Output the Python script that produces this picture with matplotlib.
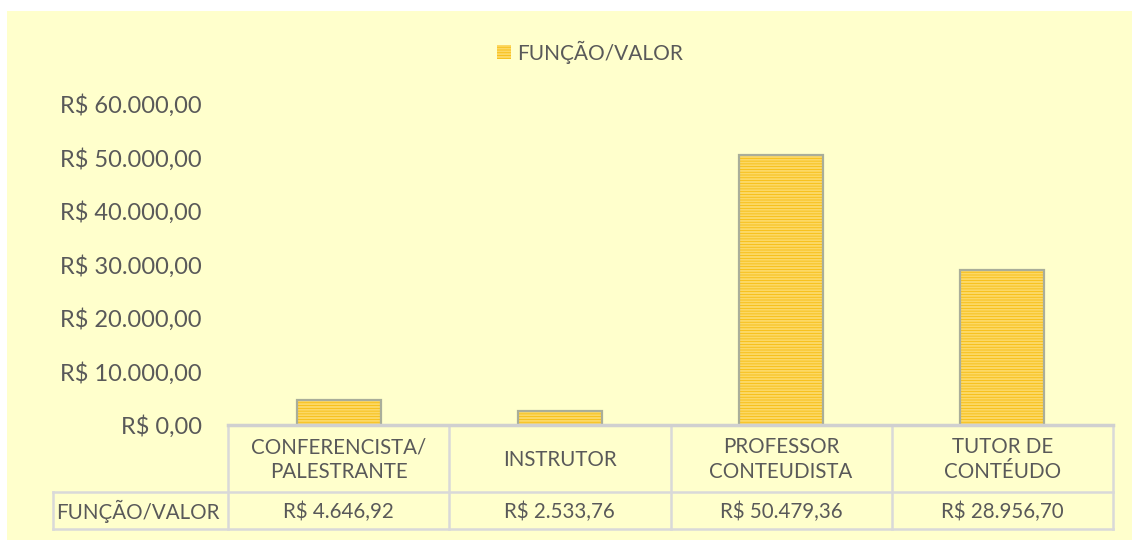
import matplotlib.pyplot as plt
from matplotlib.patches import Rectangle

categories = ["CONFERENCISTA/\nPALESTRANTE", "INSTRUTOR", "PROFESSOR\nCONTEUDISTA", "TUTOR DE\nCONTÉUDO"]
values = [4646.92, 2533.76, 50479.36, 28956.70]
value_labels = ["R$ 4.646,92", "R$ 2.533,76", "R$ 50.479,36", "R$ 28.956,70"]
series_name = "FUNÇÃO/VALOR"
y_ticks = [0, 10000, 20000, 30000, 40000, 50000, 60000]
y_tick_labels = ["R$ 0,00", "R$ 10.000,00", "R$ 20.000,00", "R$ 30.000,00",
                 "R$ 40.000,00", "R$ 50.000,00", "R$ 60.000,00"]

BG = "#FFFFCC"
TXT = "#595959"
GRID = "#D9D9D9"
FONT = ["Lato", "DejaVu Sans"]

W, H = 1132, 540
fig = plt.figure(figsize=(W / 100, H / 100), dpi=100)
fig.patch.set_facecolor("white")

# background panel + table drawn in pixel coords
ov = fig.add_axes([0, 0, 1, 1], zorder=0)
ov.set_xlim(0, W)
ov.set_ylim(H, 0)
ov.axis("off")
ov.add_patch(Rectangle((7, 11), W - 7, H - 11, facecolor=BG, edgecolor="none"))

ax_l, ax_r, ax_t, ax_b = 228, 1113, 104, 425
ax = fig.add_axes([ax_l / W, (H - ax_b) / H, (ax_r - ax_l) / W, (ax_b - ax_t) / H], zorder=1)
ax.patch.set_alpha(0)
n = len(categories)
x = list(range(n))
plt.rcParams["hatch.linewidth"] = 1.5
ax.bar(x, values, width=0.38, color="#F5B800", edgecolor="#FCD865",
       hatch="------", linewidth=0, label=series_name)
ax.bar(x, values, width=0.38, color="none", edgecolor="#A9AE9A", linewidth=1.6)
ax.set_xlim(-0.5, n - 0.5)
ax.set_ylim(0, 60000)
ax.set_yticks(y_ticks)
ax.set_yticklabels(y_tick_labels, fontsize=17, color=TXT, family=FONT)
ax.tick_params(axis="y", length=0, pad=19)
ax.set_xticks([])
for s in ["top", "right", "left"]:
    ax.spines[s].set_visible(False)
ax.spines["bottom"].set_color("#D0D0D0")
ax.spines["bottom"].set_linewidth(2.5)

# legend
leg = fig.legend(*ax.get_legend_handles_labels(), loc="center",
                 bbox_to_anchor=(590 / W, 1 - 52 / H), frameon=False,
                 prop={"family": FONT, "size": 15}, handlelength=0.65, handleheight=0.65,
                 handletextpad=0.3)
for t in leg.get_texts():
    t.set_color(TXT)

# data table
col_w = (ax_r - ax_l) / n
row1_b = 492
row2_b = 529
lbl_l = 53
lw = 1.8
ov.plot([ax_l, ax_l], [ax_b, row2_b], color=GRID, lw=lw)
for i in range(n):
    xr = ax_l + col_w * (i + 1)
    ov.plot([xr, xr], [ax_b, row2_b], color=GRID, lw=lw)
ov.plot([lbl_l, ax_r], [row1_b, row1_b], color=GRID, lw=lw)
ov.plot([lbl_l, ax_r], [row2_b, row2_b], color=GRID, lw=lw)
ov.plot([lbl_l, lbl_l], [row1_b, row2_b], color=GRID, lw=lw)

for i in range(n):
    cx = ax_l + col_w * (i + 0.5)
    ov.text(cx, (ax_b + row1_b) / 2 + 1, categories[i], ha="center", va="center",
            fontsize=14.8, color=TXT, family=FONT, linespacing=1.3)
    ov.text(cx, (row1_b + row2_b) / 2 + 1, value_labels[i], ha="center", va="center",
            fontsize=14.8, color=TXT, family=FONT)
ov.text(ax_l - 8, (row1_b + row2_b) / 2 + 1, series_name, ha="right", va="center",
        fontsize=14.8, color=TXT, family=FONT)

fig.savefig("out.png", dpi=100, facecolor=fig.get_facecolor())
